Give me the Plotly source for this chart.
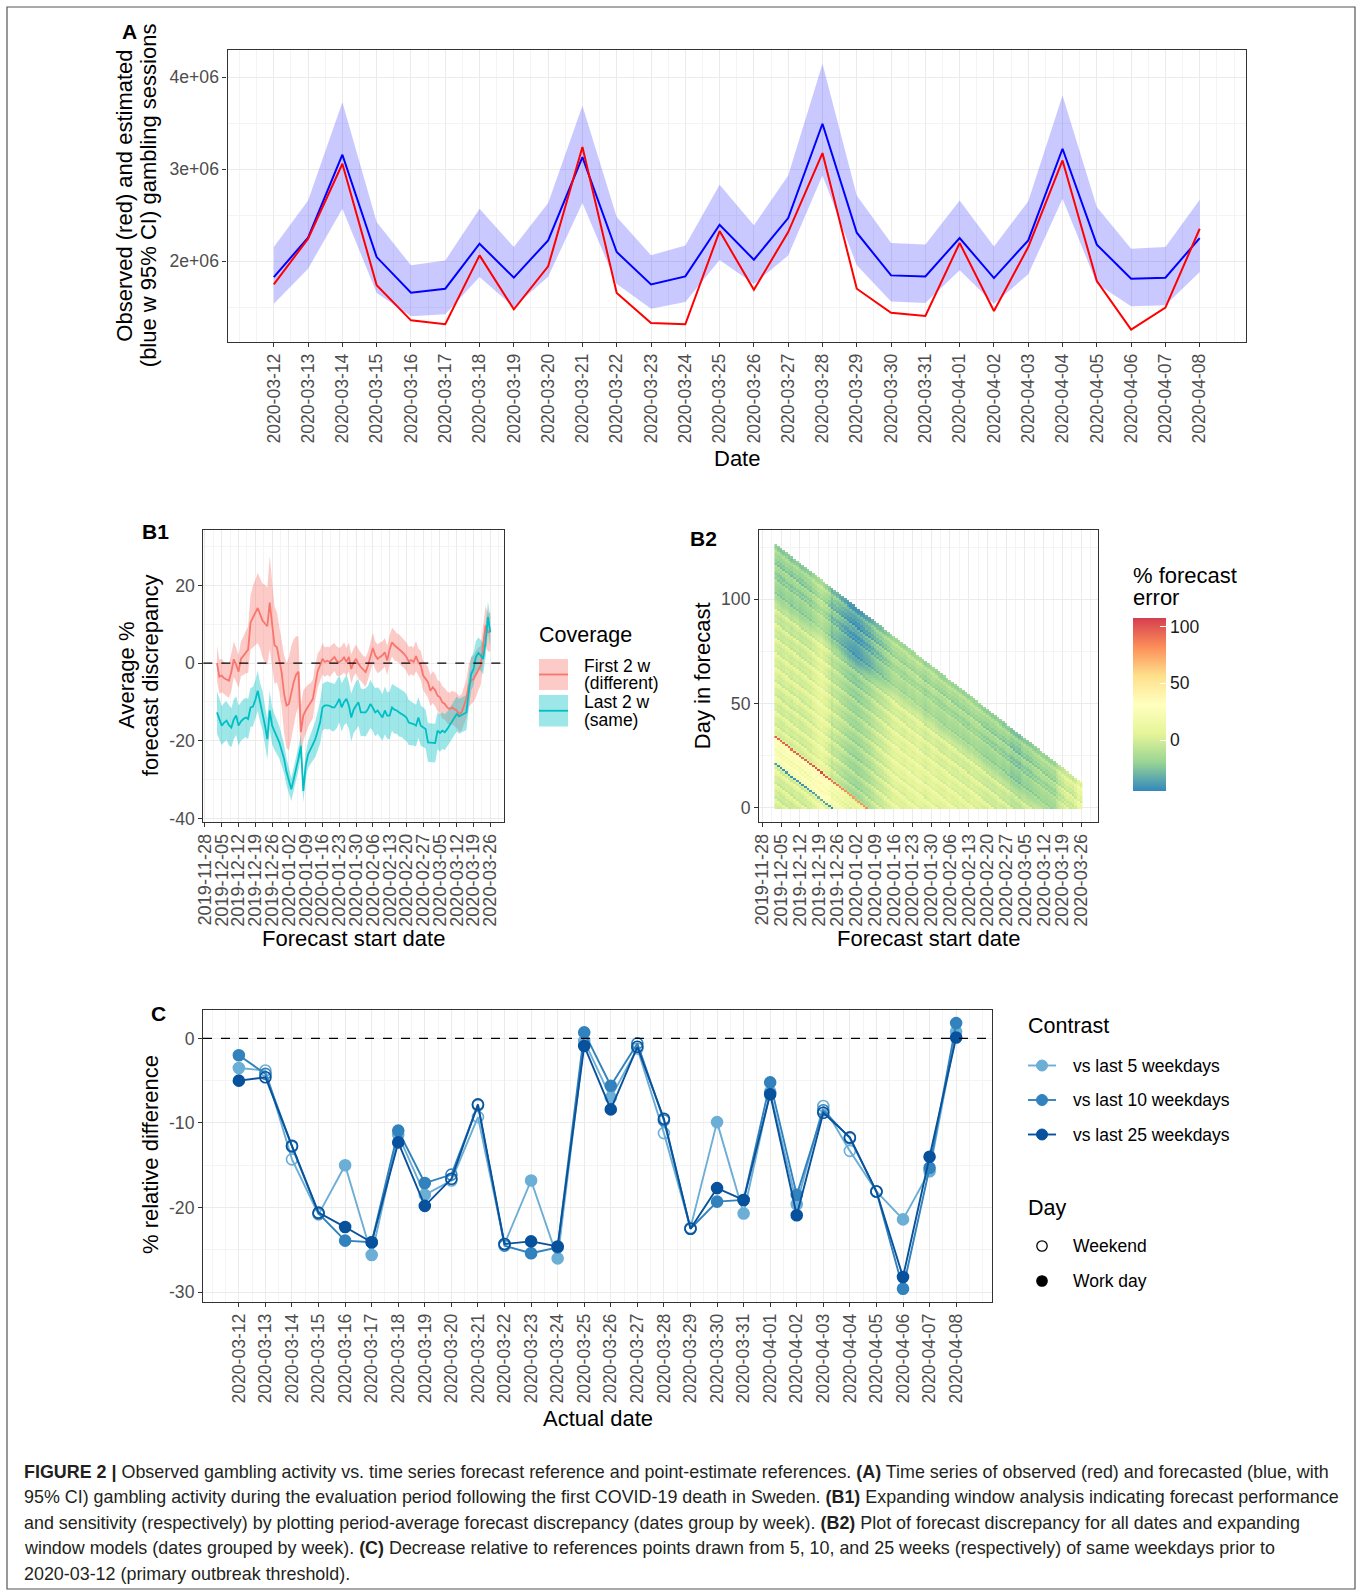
import plotly.graph_objects as go
import pandas as pd

W, H = 1362, 1593
FONT = "Liberation Sans, Arial, Helvetica, sans-serif"
TICK_COL = "#4D4D4D"
BORDER_COL = "#333333"
GRID_MAJ = "#EBEBEB"
GRID_MIN = "#F4F4F4"

# ---------------- Panel A data ----------------
a_dates = [f"2020-03-{d:02d}" for d in range(12, 32)] + [f"2020-04-{d:02d}" for d in range(1, 9)]
a_observed = [1.746e6, 2.243e6, 3.058e6, 1.736e6, 1.355e6, 1.312e6, 2.062e6, 1.475e6, 1.942e6, 3.240e6,
              1.652e6, 1.326e6, 1.312e6, 2.326e6, 1.688e6, 2.315e6, 3.174e6, 1.699e6, 1.438e6, 1.402e6,
              2.196e6, 1.456e6, 2.152e6, 3.094e6, 1.783e6, 1.254e6, 1.493e6, 2.351e6]
a_forecast = [1.826e6, 2.254e6, 3.156e6, 2.043e6, 1.656e6, 1.699e6, 2.188e6, 1.819e6, 2.225e6, 3.130e6,
              2.098e6, 1.746e6, 1.833e6, 2.395e6, 2.014e6, 2.467e6, 3.493e6, 2.308e6, 1.844e6, 1.833e6,
              2.250e6, 1.815e6, 2.225e6, 3.221e6, 2.178e6, 1.808e6, 1.819e6, 2.250e6]
a_upper = [2.152e6, 2.659e6, 3.728e6, 2.424e6, 1.953e6, 2.007e6, 2.569e6, 2.152e6, 2.630e6, 3.690e6,
           2.478e6, 2.062e6, 2.170e6, 2.830e6, 2.388e6, 2.930e6, 4.145e6, 2.714e6, 2.196e6, 2.181e6,
           2.659e6, 2.159e6, 2.649e6, 3.801e6, 2.587e6, 2.134e6, 2.152e6, 2.667e6]
a_lower = [1.536e6, 1.917e6, 2.569e6, 1.652e6, 1.399e6, 1.420e6, 1.826e6, 1.500e6, 1.830e6, 2.630e6,
           1.750e6, 1.482e6, 1.554e6, 2.010e6, 1.750e6, 2.060e6, 2.930e6, 1.953e6, 1.561e6, 1.543e6,
           1.899e6, 1.536e6, 1.855e6, 2.678e6, 1.754e6, 1.507e6, 1.518e6, 1.880e6]
a_ytick_vals = [2e6, 3e6, 4e6]
a_ytick_text = ["2e+06", "3e+06", "4e+06"]

# ---------------- Panel B1 data (forecast start dates 2019-12-03 .. 2020-03-26) ----------------
b1_dates = [d.strftime("%Y-%m-%d") for d in pd.date_range("2019-12-03", "2020-03-26", freq="D")]
b1_first2w = [0.0, -3.5, -3.2, -3.9, -4.2, -4.5, -2.3, 1.0, -0.4, -2.2,
              1.1, 2.0, 2.8, 3.5, 10.5, 12.0, 13.0, 14.2, 12.8, 11.0,
              10.2, 9.5, 15.6, 9.7, 4.6, 4.1, 1.1, -2.5, -8.0, -10.9,
              -10.5, -7.5, -4.9, -3.0, -2.2, -17.8, -13.5, -12.2, -11.0, -10.2,
              -9.2, -5.0, -2.0, -0.6, 1.1, 0.3, 0.6, 0.3, 1.1, 1.6,
              0.5, 0.3, 0.7, 1.5, 0.3, 1.6, -1.5, 0.2, 1.1, -0.2,
              -1.0, -1.8, -2.3, -0.6, 1.6, 3.9, 2.0, 1.1, 1.6, 2.0,
              2.8, 0.7, 3.5, 5.4, 4.6, 4.1, 3.7, 3.0, 2.4, 1.6,
              0.4, 0.8, 0.3, 1.8, 0.2, -0.6, -3.2, -4.0, -4.9, -7.1,
              -6.2, -7.0, -8.4, -8.8, -10.1, -10.5, -11.4, -11.8, -11.4, -11.8,
              -12.2, -13.1, -12.7, -11.0, -9.2, -5.8, -4.5, -4.1, -2.8, -1.5,
              -0.6, 4.6, 9.7, 8.0, 8.0]
b1_first2w_hw = [4.5, 4.4, 4.3, 4.1, 4.2, 4.5, 4.8, 4.6, 4.4, 4.2,
                 4.5, 5.0, 5.5, 6.0, 7.0, 8.0, 8.5, 9.0, 9.0, 9.5,
                 10.0, 10.0, 12.0, 11.0, 10.0, 9.0, 8.5, 9.0, 10.0, 11.0,
                 12.0, 12.0, 11.0, 10.0, 9.0, 7.0, 6.5, 6.0, 5.5, 5.0,
                 5.0, 4.5, 4.5, 4.0, 4.0, 3.8, 3.6, 3.8, 3.7, 3.6,
                 3.8, 3.6, 3.7, 3.9, 3.6, 3.7, 3.8, 3.6, 3.7, 3.8,
                 3.6, 3.7, 3.8, 3.6, 3.7, 3.9, 3.6, 3.7, 3.8, 3.6,
                 3.7, 3.8, 3.6, 3.7, 3.9, 3.6, 3.7, 3.8, 3.6, 3.7,
                 3.8, 3.6, 3.7, 3.9, 3.6, 3.7, 3.8, 3.9, 4.0, 4.0,
                 4.1, 4.2, 4.0, 4.1, 4.2, 4.0, 4.1, 4.2, 4.3, 4.4,
                 4.5, 4.6, 4.7, 4.8, 5.0, 5.5, 6.0, 6.0, 6.0, 5.5,
                 5.0, 5.0, 5.0, 5.0, 5.0]
b1_last2w = [-12.7, -14.5, -16.1, -15.3, -14.8, -16.0, -16.6, -14.5, -13.5, -16.1,
             -15.0, -14.4, -14.0, -14.4, -11.4, -11.2, -9.5, -7.1, -10.1, -12.2,
             -16.0, -19.6, -12.2, -16.1, -17.8, -19.0, -20.4, -22.5, -24.7, -28.0,
             -30.5, -32.5, -29.9, -27.5, -24.5, -21.3, -32.9, -26.4, -23.5, -22.2,
             -20.9, -19.6, -17.5, -15.3, -11.4, -10.9, -10.9, -11.0, -11.4, -11.4,
             -10.5, -9.2, -11.4, -10.0, -9.2, -10.9, -14.0, -12.0, -10.9, -10.1,
             -12.7, -12.7, -12.7, -11.8, -10.5, -11.5, -12.7, -12.2, -13.0, -14.0,
             -12.2, -13.5, -13.5, -11.4, -12.0, -12.2, -12.7, -13.0, -13.5, -14.0,
             -15.3, -15.5, -15.7, -16.1, -14.0, -16.1, -16.5, -17.0, -20.4, -20.5,
             -20.6, -20.6, -17.4, -18.0, -17.4, -17.8, -17.0, -16.1, -15.0, -14.0,
             -13.1, -13.7, -13.4, -13.0, -12.7, -7.5, -2.8, -1.5, 1.6, 2.6,
             2.0, 1.1, 5.4, 11.9, 8.0]
b1_last2w_hw = [5.5, 5.3, 5.0, 5.1, 5.0, 5.2, 5.0, 5.1, 5.0, 5.2,
                5.0, 5.1, 5.0, 5.2, 5.0, 5.1, 5.0, 5.2, 5.0, 5.1,
                5.0, 5.2, 5.0, 4.8, 4.6, 4.4, 4.2, 4.0, 3.8, 3.5,
                3.2, 3.0, 3.0, 3.0, 3.0, 3.0, 3.0, 3.2, 3.5, 3.8,
                4.2, 4.6, 5.0, 5.5, 6.0, 6.0, 6.2, 6.0, 6.2, 6.0,
                6.2, 6.0, 6.2, 6.0, 6.2, 6.0, 6.2, 6.0, 6.2, 6.0,
                6.2, 6.0, 6.2, 6.0, 6.2, 6.0, 6.2, 6.0, 6.2, 6.0,
                6.2, 6.0, 6.2, 6.0, 6.2, 6.0, 6.2, 6.0, 6.2, 6.0,
                5.8, 5.6, 5.5, 5.4, 5.3, 5.2, 5.1, 5.0, 5.0, 5.0,
                5.0, 5.0, 4.8, 4.8, 4.7, 4.6, 4.5, 4.5, 4.5, 4.5,
                4.5, 4.5, 4.5, 4.5, 4.5, 4.5, 4.3, 4.2, 4.1, 4.0,
                4.0, 4.0, 4.0, 4.0, 4.0]
b_week_ticks = [d.strftime("%Y-%m-%d") for d in pd.date_range("2019-11-28", "2020-03-26", freq="7D")]

# ---------------- Panel B2 data ----------------
# estimated error by actual date (2019-12-03 .. 2020-04-07), and per-model (start date) offset
b2_actual_err = [-2, -4, 0, 3, 8, -8, -3,
                 -1, -5, 1, 4, 9, -7, -2,
                 0, -3, 2, 6, 12, -4, 2,
                 -42,
                 20, 22, 25, 30, 18, 24, 15, 28, 22, 24, 30, 20,
                 95,
                 2, -2, 1, 4, 9, -6, -1,
                 0, -3, 2, 5, 10, -5, -2,
                 -1, -4, 1, 4, 8, -7, -3,
                 0, -3, 2, 5, 9, -6, -2,
                 1, -2, 3, 6, 10, -5, -1,
                 0, -3, 2, 4, 9, -6, -2,
                 -1, -4, 0, 3, 8, -8, -4,
                 -3, -6, -2, 1, 5, -10, -6,
                 -5, -8, -4, -1, 3, -12, -8,
                 -10, -13, -16, -18, -15, -26, -20,
                 -22, -20, -19, -18, -14, -26, -20,
                 -26, -22, -16, -18, -12, -28, -22,
                 -24, -18, -20, -16, -12, -22, -26,
                 -22]
b2_start_offset = [3, 1, -1, 0, 2, 1, -1, 1, 2, -1,
                   0, 1, 2, 1, 5, 6, 8, 10, 7, 5,
                   1, -7, -4, -6, -8, -10, -12, -14, -15, -16,
                   -17, -16, -15, -13, -12, -11, -8, -6, -4, -3,
                   -2, 0, 2, 4, 6, 7, 7, 6, 5, 7,
                   8, 6, 7, 9, 8, 6, 4, 6, 7, 8,
                   6, 5, 5, 5, 6, 7, 5, 5, 4, 6,
                   4, 5, 4, 7, 5, 6, 5, 4, 3, 2,
                   3, 2, 2, 4, 3, 1, 1, 2, -2, -2,
                   -2, -3, 0, 1, 0, 1, 2, 3, 4, 5,
                   5, 4, 5, 5, 5, 10, 15, 17, 20, 21,
                   20, 19, 23, 30, 26]
b2_days = list(range(len(b2_actual_err)))
b2_cbar_ticks = [0, 50, 100]

# ---------------- Panel C data ----------------
c_dates = a_dates
c_daytype = ["Work day", "Weekend", "Weekend", "Weekend", "Work day", "Work day", "Work day", "Work day",
             "Weekend", "Weekend", "Weekend", "Work day", "Work day", "Work day", "Work day",
             "Weekend", "Weekend", "Weekend", "Work day", "Work day", "Work day", "Work day",
             "Weekend", "Weekend", "Weekend", "Work day", "Work day", "Work day"]
c_last5 = [-3.5, -3.8, -14.3, -20.8, -15.0, -25.6, -11.4, -18.5, -16.8, -9.3,
           -24.3, -16.8, -26.0, -0.3, -7.0, -1.2, -11.2, -22.4, -9.9, -20.7,
           -6.3, -19.6, -8.0, -13.3, -18.1, -21.4, -15.7, 0.8]
c_last10 = [-2.0, -4.2, -12.8, -20.7, -23.9, -24.1, -10.9, -17.1, -16.1, -7.9,
            -24.5, -25.4, -24.7, 0.7, -5.6, -0.6, -9.7, -22.5, -19.3, -19.1,
            -5.2, -18.5, -8.5, -11.8, -18.1, -29.6, -15.3, 1.8]
c_last25 = [-5.0, -4.6, -12.7, -20.6, -22.3, -24.1, -12.3, -19.8, -16.6, -7.8,
            -24.3, -24.0, -24.6, -0.9, -8.4, -1.0, -9.5, -22.5, -17.7, -19.1,
            -6.6, -20.9, -8.8, -11.7, -18.1, -28.2, -14.0, 0.1]
c_series_names = ["vs last 5 weekdays", "vs last 10 weekdays", "vs last 25 weekdays"]
c_colors = ["#6BAED6", "#3182BD", "#08519C"]


def fx(x):
    return x / W


def fy(y):
    return 1 - y / H


fig = go.Figure()

# ---- Panel A traces
fig.add_trace(go.Scatter(x=a_dates, y=a_lower, mode="lines", line=dict(width=0), hoverinfo="skip",
                         xaxis="x", yaxis="y"))
fig.add_trace(go.Scatter(x=a_dates, y=a_upper, mode="lines", line=dict(width=0), fill="tonexty",
                         fillcolor="rgba(0,0,255,0.21)", hoverinfo="skip", xaxis="x", yaxis="y"))
fig.add_trace(go.Scatter(x=a_dates, y=a_forecast, mode="lines", line=dict(color="#0000FF", width=2),
                         xaxis="x", yaxis="y"))
fig.add_trace(go.Scatter(x=a_dates, y=a_observed, mode="lines", line=dict(color="#FF0000", width=2),
                         xaxis="x", yaxis="y"))

# ---- Panel B1 traces
RED, CYAN = "#F8766D", "#00BFC4"
for vals, hw, fillc in [(b1_first2w, b1_first2w_hw, "rgba(248,118,109,0.38)"),
                        (b1_last2w, b1_last2w_hw, "rgba(0,191,196,0.38)")]:
    lo = [v - h for v, h in zip(vals, hw)]
    hi = [v + h for v, h in zip(vals, hw)]
    fig.add_trace(go.Scatter(x=b1_dates, y=lo, mode="lines", line=dict(width=0), hoverinfo="skip",
                             xaxis="x2", yaxis="y2"))
    fig.add_trace(go.Scatter(x=b1_dates, y=hi, mode="lines", line=dict(width=0), fill="tonexty",
                             fillcolor=fillc, hoverinfo="skip", xaxis="x2", yaxis="y2"))
fig.add_trace(go.Scatter(x=b1_dates, y=b1_first2w, mode="lines", line=dict(color=RED, width=1.8),
                         xaxis="x2", yaxis="y2"))
fig.add_trace(go.Scatter(x=b1_dates, y=b1_last2w, mode="lines", line=dict(color=CYAN, width=1.8),
                         xaxis="x2", yaxis="y2"))

# ---- Panel B2 heatmap
b2_x = b1_dates
n_start = len(b2_start_offset)
n_day = len(b2_actual_err)
z = []
for j in range(n_day):
    row = []
    for i in range(n_start):
        if i + j <= n_day - 1:
            row.append(b2_actual_err[i + j] + b2_start_offset[i])
        else:
            row.append(None)
    z.append(row)

spectral = [[0.0, "#3288BD"], [1 / 6, "#99D594"], [2 / 6, "#E6F598"], [3 / 6, "#FFFFBF"],
            [4 / 6, "#FEE08B"], [5 / 6, "#FC8D59"], [1.0, "#D53E4F"]]
fig.add_trace(go.Heatmap(
    x=b2_x, y=b2_days, z=z, zmin=-45, zmax=107.5, colorscale=spectral, hoverinfo="skip",
    xaxis="x3", yaxis="y3",
    colorbar=dict(x=fx(1133), xanchor="left", xpad=0, y=fy(704.6), yanchor="middle", ypad=0,
                  len=172.7, lenmode="pixels", thickness=32.5, thicknessmode="pixels",
                  outlinewidth=0, tickmode="array", tickvals=b2_cbar_ticks,
                  ticktext=[str(v) for v in b2_cbar_ticks], ticks="inside", ticklen=6,
                  tickcolor="white", tickwidth=1,
                  tickfont=dict(family=FONT, size=17.5, color="#1A1A1A"), title=dict(text="")),
))

# ---- Panel C traces
for vals, col in zip([c_last5, c_last10, c_last25], c_colors):
    symbols = ["circle-open" if t == "Weekend" else "circle" for t in c_daytype]
    fig.add_trace(go.Scatter(x=c_dates, y=vals, mode="lines+markers",
                             line=dict(color=col, width=1.9),
                             marker=dict(symbol=symbols, size=11, color=col,
                                         line=dict(color=col, width=1.6)),
                             xaxis="x4", yaxis="y4"))


# ---------------- axes ----------------
def axis_style(fs=17.6, **kw):
    d = dict(showline=True, mirror=True, linecolor=BORDER_COL, linewidth=1.1,
             ticks="outside", ticklen=4, tickwidth=1.1, tickcolor=BORDER_COL,
             tickfont=dict(family=FONT, size=fs, color=TICK_COL), automargin=False,
             showgrid=True, gridcolor=GRID_MAJ, gridwidth=1.1, zeroline=False)
    d.update(kw)
    return d


def minor_grid(vals):
    return dict(tickmode="array", tickvals=vals, showgrid=True, gridcolor=GRID_MIN,
                gridwidth=0.7, ticks="")


half_days = [d.strftime("%Y-%m-%d %H:%M") for d in pd.date_range("2020-03-10 12:00", "2020-04-09 12:00", freq="12h")
             if d.strftime("%Y-%m-%d") not in a_dates or d.hour == 12]
half_weeks = [d.strftime("%Y-%m-%d %H:%M") for d in pd.date_range("2019-11-24 12:00", "2020-04-02", freq="7D")]
day_range = ["2020-03-10 15:36", "2020-04-09 08:24"]

fig.update_layout(
    width=W, height=H, autosize=False,
    margin=dict(l=0, r=0, t=0, b=0, pad=0, autoexpand=False), showlegend=False,
    plot_bgcolor="white", paper_bgcolor="white", font=dict(family=FONT, color="black"),
    xaxis=axis_style(domain=[fx(227.5), fx(1246)], anchor="y", type="date", range=day_range,
                     tickmode="array", tickvals=a_dates, ticktext=a_dates, tickangle=-90,
                     minor=minor_grid(half_days)),
    yaxis=axis_style(domain=[fy(341.5), fy(50)], anchor="x", range=[1.125e6, 4.295e6],
                     tickmode="array", tickvals=a_ytick_vals, ticktext=a_ytick_text,
                     minor=minor_grid([1.5e6, 2.5e6, 3.5e6])),
    xaxis2=axis_style(fs=18.2, domain=[fx(203.3), fx(504)], anchor="y2", type="date",
                      range=["2019-11-27 07:12", "2020-03-31 16:48"],
                      tickmode="array", tickvals=b_week_ticks, ticktext=b_week_ticks, tickangle=-90,
                      minor=minor_grid(half_weeks)),
    yaxis2=axis_style(domain=[fy(821.5), fy(530)], anchor="x2", range=[-40.8, 34.3],
                      tickmode="array", tickvals=[-40, -20, 0, 20], ticktext=["-40", "-20", "0", "20"],
                      minor=minor_grid([-30, -10, 10, 30])),
    xaxis3=axis_style(fs=18.2, domain=[fx(759), fx(1098)], anchor="y3", type="date",
                      range=["2019-11-26 18:00", "2020-04-01 06:00"],
                      tickmode="array", tickvals=b_week_ticks, ticktext=b_week_ticks, tickangle=-90,
                      minor=minor_grid(half_weeks)),
    yaxis3=axis_style(domain=[fy(821.5), fy(530)], anchor="x3", range=[-6.5, 133.2],
                      tickmode="array", tickvals=[0, 50, 100], ticktext=["0", "50", "100"],
                      minor=minor_grid([25, 75, 125])),
    xaxis4=axis_style(domain=[fx(203), fx(992)], anchor="y4", type="date", range=day_range,
                      tickmode="array", tickvals=c_dates, ticktext=c_dates, tickangle=-90,
                      minor=minor_grid(half_days)),
    yaxis4=axis_style(domain=[fy(1301.5), fy(1010)], anchor="x4", range=[-31.1, 3.35],
                      tickmode="array", tickvals=[-30, -20, -10, 0], ticktext=["-30", "-20", "-10", "0"],
                      minor=minor_grid([-25, -15, -5])),
)

shapes = []
annots = []


def ann(text, x, y, size, xanchor="center", yanchor="middle", angle=0, color="black"):
    annots.append(dict(text=text, x=fx(x), y=fy(y), xref="paper", yref="paper", showarrow=False,
                       xanchor=xanchor, yanchor=yanchor, textangle=angle,
                       font=dict(family=FONT, size=size, color=color)))


# dashed zero lines
for xr, yr in [("x2 domain", "y2"), ("x4 domain", "y4")]:
    shapes.append(dict(type="line", xref=xr, yref=yr, x0=0, x1=1, y0=0, y1=0,
                       line=dict(color="black", width=1.4, dash="dash"), layer="above"))

# outer frame
shapes.append(dict(type="rect", xref="paper", yref="paper", x0=fx(7), x1=fx(1355), y0=fy(1589), y1=fy(7),
                   line=dict(color="#555555", width=1.2), fillcolor="rgba(0,0,0,0)", layer="below"))

# panel labels
ann("<b>A</b>", 129.5, 32, 21)
ann("<b>B1</b>", 155, 532, 21)
ann("<b>B2</b>", 703.5, 538, 21)
ann("<b>C</b>", 158, 1013, 21)

# axis titles
ann("Observed (red) and estimated", 125, 195.7, 22, angle=-90)
ann("(blue w 95% CI) gambling sessions", 148.5, 195.7, 22, angle=-90)
ann("Date", 737, 458, 22)
ann("Average %", 127, 675.7, 22, angle=-90)
ann("forecast discrepancy", 150.5, 675.7, 22, angle=-90)
ann("Forecast start date", 353.5, 938, 22)
ann("Day in forecast", 702.5, 675.7, 22, angle=-90)
ann("Forecast start date", 928, 938, 22)
ann("% relative difference", 150, 1155, 22, angle=-90)
ann("Actual date", 597.5, 1418, 22)

# B1 legend (Coverage)
ann("Coverage", 537, 635, 21.5, xanchor="left")
for (ytop, ybot), line_col, fill_col, l1, l2 in [
        ((659, 690), RED, "rgba(248,118,109,0.38)", "First 2 w", "(different)"),
        ((695, 726.5), CYAN, "rgba(0,191,196,0.38)", "Last 2 w", "(same)")]:
    shapes.append(dict(type="rect", xref="paper", yref="paper", x0=fx(539), x1=fx(568), y0=fy(ybot),
                       y1=fy(ytop), line=dict(width=0), fillcolor=fill_col))
    ym = (ytop + ybot) / 2
    shapes.append(dict(type="line", xref="paper", yref="paper", x0=fx(539), x1=fx(568), y0=fy(ym), y1=fy(ym),
                       line=dict(color=line_col, width=1.8)))
    ann(l1, 581.5, ym - 9, 17.5, xanchor="left")
    ann(l2, 581.5, ym + 9, 17.5, xanchor="left")

# B2 colorbar title
ann("% forecast", 1131, 575, 22, xanchor="left")
ann("error", 1131, 598, 22, xanchor="left")

# C legend
ann("Contrast", 1026, 1026, 21.5, xanchor="left")
for yc, col, name in zip([1065.5, 1100, 1134.5], c_colors, c_series_names):
    shapes.append(dict(type="line", xref="paper", yref="paper", x0=fx(1028), x1=fx(1056), y0=fy(yc), y1=fy(yc),
                       line=dict(color=col, width=1.9)))
    r = 5.5
    shapes.append(dict(type="circle", xref="paper", yref="paper", x0=fx(1042 - r), x1=fx(1042 + r),
                       y0=fy(yc + r), y1=fy(yc - r), line=dict(color=col, width=1), fillcolor=col))
    ann(name, 1070.5, yc, 17.5, xanchor="left")
ann("Day", 1026, 1208, 21.5, xanchor="left")
for yc, filled, name in [(1246, False, "Weekend"), (1281, True, "Work day")]:
    r = 5.2
    shapes.append(dict(type="circle", xref="paper", yref="paper", x0=fx(1042 - r), x1=fx(1042 + r),
                       y0=fy(yc + r), y1=fy(yc - r), line=dict(color="black", width=1.3),
                       fillcolor="black" if filled else "white"))
    ann(name, 1070.5, yc, 17.5, xanchor="left")

# caption
cap_lines = [
    "<b>FIGURE 2 |</b> Observed gambling activity vs. time series forecast reference and point-estimate references. <b>(A)</b> Time series of observed (red) and forecasted (blue, with",
    "95% CI) gambling activity during the evaluation period following the first COVID-19 death in Sweden. <b>(B1)</b> Expanding window analysis indicating forecast performance",
    "and sensitivity (respectively) by plotting period-average forecast discrepancy (dates group by week). <b>(B2)</b> Plot of forecast discrepancy for all dates and expanding",
    "window models (dates grouped by week). <b>(C)</b> Decrease relative to references points drawn from 5, 10, and 25 weeks (respectively) of same weekdays prior to",
    "2020-03-12 (primary outbreak threshold).",
]
for k, line in enumerate(cap_lines):
    ann(line, 22.3, 1472 + k * 25.4, 17.9, xanchor="left", color="#231F20")

fig.update_layout(shapes=shapes, annotations=annots)

fig.write_html("out.html", config={"displayModeBar": False, "responsive": False},
               post_script="document.body.style.margin='0';")
